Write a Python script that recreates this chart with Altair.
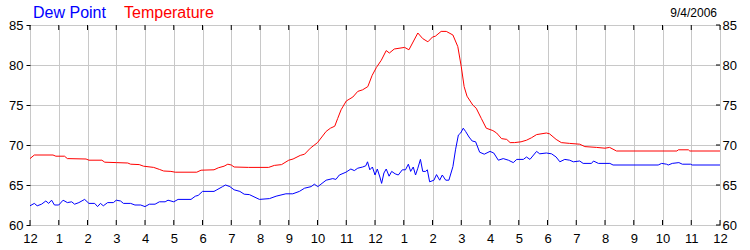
import altair as alt
import pandas as pd

# ---------------- data ----------------
temp_hours = [0, 0.15, 0.8, 0.9, 1.2, 1.3, 1.95, 2.05, 2.5, 2.6, 3.0, 3.4, 3.5, 3.8, 3.95,
              4.3, 4.5, 4.65, 4.9, 5.05, 5.8, 5.95, 6.4, 6.55, 6.75, 6.88, 7.0, 7.1, 7.6,
              8.3, 8.5, 8.75, 9.0, 9.15, 9.4, 9.55, 9.75, 10.0, 10.15, 10.3, 10.45, 10.6,
              10.7, 10.82, 11.0, 11.23, 11.4, 11.57, 11.75, 11.9, 12.05, 12.22, 12.39, 12.5,
              12.67, 13.03, 13.18, 13.49, 13.66, 13.84, 14.0, 14.1, 14.3, 14.48, 14.71,
              14.88, 15.0, 15.1, 15.2, 15.4, 15.52, 15.7, 15.87, 16.1, 16.23, 16.4, 16.58,
              16.7, 16.85, 17.08, 17.27, 17.44, 17.62, 17.96, 18.07, 18.3, 18.48, 18.77,
              19.12, 19.3, 19.7, 20.0, 20.16, 20.4, 22.5, 22.55, 22.9, 22.95, 24.0]
temp_vals = [68.3, 68.75, 68.75, 68.6, 68.6, 68.3, 68.25, 68.1, 68.1, 67.85, 67.8, 67.75, 67.6,
             67.55, 67.35, 67.2, 66.95, 66.75, 66.7, 66.6, 66.6, 66.85, 66.9, 67.15, 67.35,
             67.6, 67.5, 67.25, 67.2, 67.2, 67.45, 67.55, 68.1, 68.25, 68.7, 68.85, 69.6,
             70.3, 71.0, 71.7, 72.1, 72.35, 73.3, 74.4, 75.5, 76.0, 76.7, 76.9, 77.3, 78.7,
             79.7, 80.6, 81.8, 81.5, 82.0, 82.2, 81.9, 84.0, 83.3, 82.9, 83.5, 83.6, 84.2,
             84.2, 83.75, 82.3, 79.8, 77.3, 76.1, 75.0, 74.6, 73.3, 72.1, 71.8, 71.5, 70.8,
             70.7, 70.3, 70.3, 70.4, 70.6, 70.9, 71.3, 71.5, 71.4, 70.7, 70.3, 70.2, 70.1,
             69.8, 69.7, 69.6, 69.7, 69.25, 69.25, 69.4, 69.4, 69.25, 69.25]

dew_hours = [0, 0.15, 0.25, 0.4, 0.55, 0.65, 0.75, 0.85, 1.0, 1.15, 1.3, 1.45, 1.55, 1.7, 1.9,
             2.05, 2.25, 2.35, 2.45, 2.55, 2.7, 2.9, 3.0, 3.15, 3.25, 3.5, 3.65, 3.85, 4.0,
             4.15, 4.35, 4.5, 4.7, 4.8, 5.0, 5.15, 5.6, 5.75, 5.85, 6.0, 6.4, 6.5, 6.7, 6.8,
             6.95, 7.1, 7.3, 7.45, 7.63, 7.98, 8.33, 8.56, 8.9, 9.14, 9.37, 9.55, 9.78, 9.89,
             10.01, 10.12, 10.3, 10.53, 10.64, 10.76, 10.99, 11.16, 11.28, 11.4, 11.57, 11.68,
             11.74, 11.82, 11.91, 12.0, 12.08, 12.17, 12.23, 12.31, 12.39, 12.49, 12.58, 12.7,
             12.81, 12.95, 13.06, 13.16, 13.24, 13.33, 13.41, 13.49, 13.58, 13.66, 13.76,
             13.82, 13.9, 14.05, 14.14, 14.25, 14.34, 14.46, 14.57, 14.71, 14.8, 14.9, 14.98,
             15.07, 15.15, 15.27, 15.38, 15.5, 15.64, 15.8, 16.0, 16.13, 16.29, 16.46, 16.64,
             16.81, 16.93, 17.16, 17.27, 17.39, 17.62, 17.73, 17.96, 18.14, 18.3, 18.43, 18.6,
             18.77, 18.9, 19.12, 19.24, 19.53, 19.6, 19.77, 20.17, 20.28, 21.85, 21.97, 22.14,
             22.2, 22.34, 22.57, 22.69, 22.98, 23.03, 24.0]
dew_vals = [62.4, 62.7, 62.4, 62.6, 63.0, 62.7, 63.1, 62.5, 62.5, 63.1, 62.8, 62.9, 62.6, 62.8,
            63.2, 62.7, 62.7, 62.3, 62.7, 62.4, 62.8, 62.8, 63.1, 63.0, 62.7, 62.7, 62.5, 62.5,
            62.3, 62.6, 62.6, 62.9, 62.9, 63.1, 62.9, 63.2, 63.2, 63.6, 63.7, 64.2, 64.2, 64.4,
            64.8, 65.0, 64.8, 64.4, 64.2, 63.85, 63.8, 63.2, 63.3, 63.6, 63.9, 63.9, 64.2, 64.6,
            64.8, 65.1, 64.8, 65.1, 65.6, 65.8, 65.7, 66.25, 66.6, 67.0, 66.8, 67.1, 67.25,
            67.4, 67.9, 66.9, 67.25, 66.25, 67.0, 66.0, 65.2, 66.5, 67.0, 66.1, 66.7, 66.4,
            66.25, 66.9, 66.9, 67.6, 66.7, 67.25, 66.25, 67.1, 68.2, 66.7, 66.7, 66.9, 65.4,
            65.6, 66.3, 65.6, 66.25, 65.6, 65.6, 67.3, 69.4, 71.25, 71.5, 72.1, 71.7, 71.0,
            70.5, 70.4, 69.1, 68.85, 69.2, 69.0, 68.1, 68.3, 68.1, 67.8, 68.2, 68.2, 68.5,
            68.2, 69.2, 68.9, 69.0, 68.9, 68.5, 67.9, 68.2, 68.1, 67.9, 68.0, 67.7, 67.7,
            68.0, 67.7, 67.7, 67.5, 67.5, 67.7, 67.6, 67.5, 67.7, 67.8, 67.6, 67.6, 67.5, 67.5]

tick_hours = list(range(25))
y_ticks = [60, 65, 70, 75, 80, 85]

temp_df = pd.DataFrame({"h": temp_hours, "v": temp_vals})
dew_df = pd.DataFrame({"h": dew_hours, "v": dew_vals})
hours_df = pd.DataFrame({"h": tick_hours})
yt_df = pd.DataFrame({"v": y_ticks})

FONT = "Liberation Sans"
GRID = "#C8C8C8"

xscale = alt.Scale(domain=[0, 24], nice=False, zero=False)
yscale = alt.Scale(domain=[60, 85], nice=False, zero=False)

x_axis = alt.Axis(values=tick_hours,
                  labelExpr="datum.value % 12 == 0 ? '12' : '' + (datum.value % 12)",
                  grid=True, gridColor=GRID, gridWidth=1, ticks=False, domain=False,
                  title=None, labelFont=FONT, labelFontSize=13, labelColor="#000",
                  labelPadding=7, labelFlush=False, labelOverlap=False)
left_axis = alt.Axis(values=y_ticks, grid=True, gridColor=GRID, gridWidth=1,
                     ticks=True, tickSize=4, tickColor="#000", domain=False, title=None,
                     labelFont=FONT, labelFontSize=13, labelColor="#000", labelPadding=3,
                     labelFlush=False, labelOverlap=False)
right_axis = alt.Axis(orient="right", values=y_ticks, grid=False, ticks=False,
                      domain=False, title=None, labelFont=FONT, labelFontSize=13,
                      labelColor="#000", labelPadding=2, labelFlush=False,
                      labelOverlap=False)

X = alt.X("h:Q", scale=xscale, axis=x_axis)

temp_line = alt.Chart(temp_df).mark_line(color="#FF0000", strokeWidth=1).encode(
    x=X, y=alt.Y("v:Q", scale=yscale, axis=left_axis),
)
dew_line = alt.Chart(dew_df).mark_line(color="#0000FF", strokeWidth=1).encode(
    x=X, y=alt.Y("v:Q", scale=yscale, axis=right_axis),
)

top_ticks = alt.Chart(hours_df).mark_rule(color="#000", strokeWidth=1).encode(
    x=X, y=alt.value(0), y2=alt.value(5))
bottom_ticks = alt.Chart(hours_df).mark_rule(color="#000", strokeWidth=1).encode(
    x=X, y=alt.value(195), y2=alt.value(200))
right_ticks = alt.Chart(yt_df).mark_rule(color="#000", strokeWidth=1).encode(
    y=alt.Y("v:Q", scale=yscale, axis=None), x=alt.value(686), x2=alt.value(690))

t_dew = alt.Chart(pd.DataFrame({"t": ["Dew Point"]})).mark_text(
    align="left", baseline="alphabetic", font=FONT, fontSize=16, color="#0000FF"
).encode(x=alt.value(3), y=alt.value(-7.5), text="t:N")
t_temp = alt.Chart(pd.DataFrame({"t": ["Temperature"]})).mark_text(
    align="left", baseline="alphabetic", font=FONT, fontSize=16, color="#FF0000"
).encode(x=alt.value(94), y=alt.value(-7.5), text="t:N")
t_date = alt.Chart(pd.DataFrame({"t": ["9/4/2006"]})).mark_text(
    align="right", baseline="alphabetic", font=FONT, fontSize=12, color="#000"
).encode(x=alt.value(687), y=alt.value(-8), text="t:N")

chart = alt.layer(
    temp_line, dew_line, top_ticks, bottom_ticks, right_ticks, t_dew, t_temp, t_date
).resolve_scale(y="independent").properties(
    width=690, height=200,
    autosize=alt.AutoSizeParams(type="none"),
    padding={"left": 30, "top": 25, "right": 30, "bottom": 25},
    background="white",
).configure_view(stroke="#000", strokeWidth=1)

chart.save("out.html", embed_options={"renderer": "svg", "actions": False})
